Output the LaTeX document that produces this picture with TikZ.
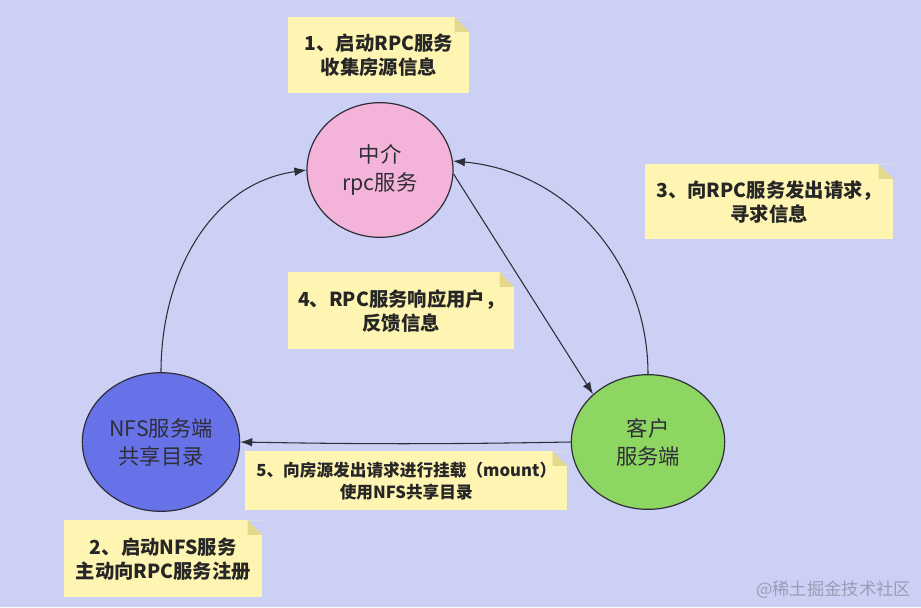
\documentclass[tikz,border=0pt]{standalone}
\usepackage{fontspec}
\setmainfont{Noto Sans CJK SC}
\usetikzlibrary{arrows.meta,positioning,shapes.geometric}

\definecolor{bgblue}{HTML}{CCD0F5}
\definecolor{hubpink}{HTML}{F4B4DA}
\definecolor{nfsblue}{HTML}{6872E8}
\definecolor{cligreen}{HTML}{8ED662}
\definecolor{noteyellow}{HTML}{FFF5B2}
\definecolor{foldyellow}{HTML}{E4D88C}
\definecolor{linegray}{HTML}{2E2E38}
\definecolor{markgray}{HTML}{9A9DB4}

\begin{document}
\begin{tikzpicture}[x=0.75pt,y=-0.75pt,
  hub/.style={ellipse, draw=linegray, line width=0.9pt, align=center, text=linegray, inner sep=0pt, font=\fontsize{16}{21}\selectfont},
  note/.style={fill=noteyellow, anchor=north west, align=center, inner sep=0pt, text=black!85, font=\fontsize{14.5}{18}\selectfont\bfseries,
    path picture={
      \fill[bgblue] (path picture bounding box.north east) -- ++(-11pt,0pt) -- ++(11pt,-11pt) -- cycle;
      \fill[foldyellow] ([xshift=-11pt]path picture bounding box.north east) -- ++(0pt,-11pt) -- ++(11pt,0pt) -- cycle;}},
  link/.style={draw=linegray, line width=0.8pt, -{Latex[length=9pt,width=6.5pt]}}]
        \fill[bgblue] (0,0) rectangle (921,607);
        \useasboundingbox (0,0) rectangle (921,607);

        \node[hub, fill=hubpink, minimum width=109.5pt, minimum height=101pt] (mid) at (380,170) {中介\\rpc服务};
        \node[hub, fill=nfsblue, minimum width=118pt, minimum height=104pt] (nfs) at (161,442) {NFS服务端\\共享目录};
        \node[hub, fill=cligreen, minimum width=115pt, minimum height=101pt] (cli) at (648,442) {客户\\服务端};

        \node[note, minimum width=135.75pt, minimum height=57pt] (n1) at (288,17) {1、启动RPC服务\\收集房源信息};
        \node[note, minimum width=148.5pt, minimum height=57.75pt] (n2) at (64,520) {2、启动NFS服务\\主动向RPC服务注册};
        \node[note, minimum width=186pt, minimum height=56.25pt] (n3) at (645,164) {3、向RPC服务发出请求，\\寻求信息};
        \node[note, minimum width=169.5pt, minimum height=57.75pt] (n4) at (288,272) {4、RPC服务响应用户，\\反馈信息};
        \node[note, minimum width=241.5pt, minimum height=44.25pt, font=\fontsize{12.5}{16.5}\selectfont\bfseries] (n5) at (245,451) {5、向房源发出请求进行挂载（mount）\\使用NFS共享目录};

        \draw[link] (nfs.north) to[out=90, in=188] (mid.west);
        \draw[link] (cli.north) to[out=90, in=-5] (mid.7);
        \draw[link] (mid.-3) -- (cli.139);
        \draw[link] (cli.west) to[bend left=1] (nfs.east);

        \node[anchor=east, text=markgray, font=\fontsize{13}{15}\selectfont] (mark) at (916,590) {@稀土掘金技术社区};
      \end{tikzpicture}
\end{document}
